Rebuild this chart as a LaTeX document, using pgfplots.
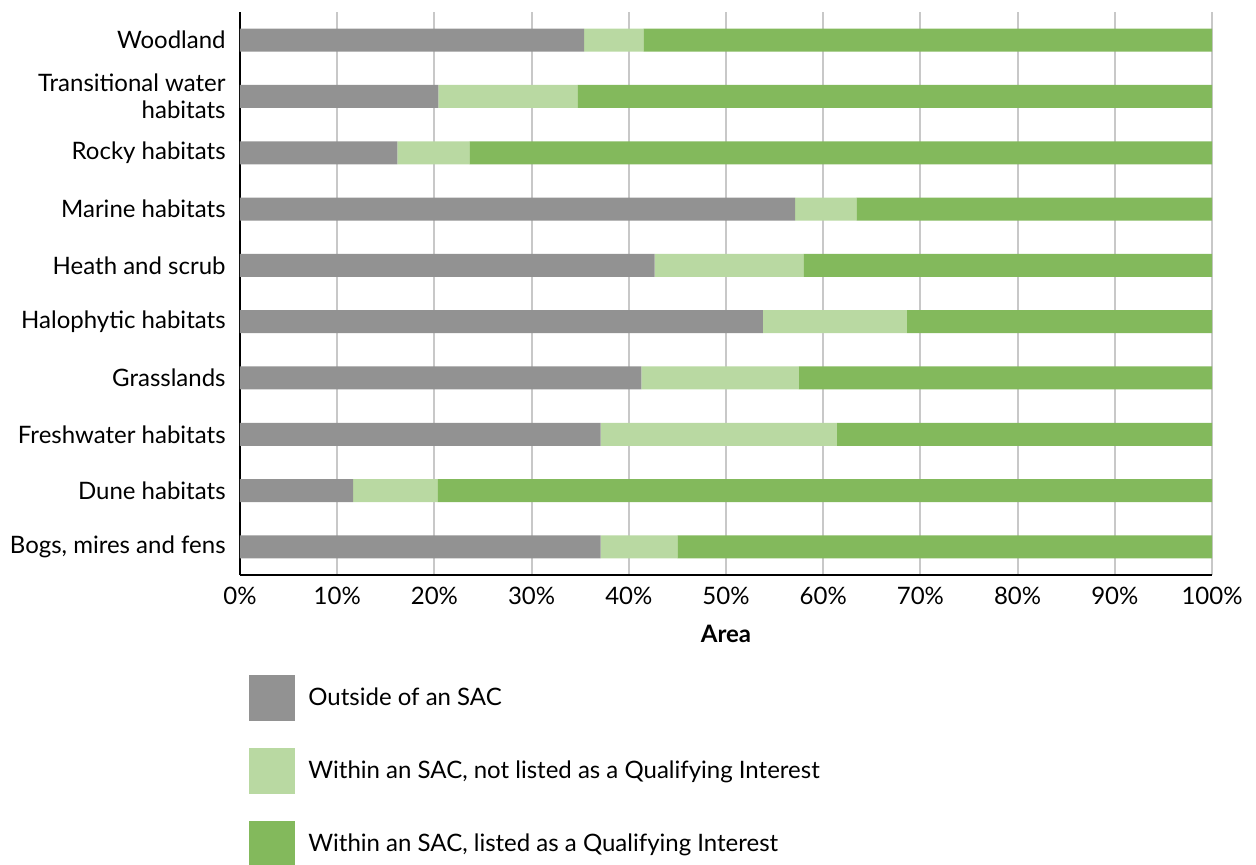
\documentclass[border=0pt]{standalone}
\usepackage{fontspec}
\setmainfont{Lato}
\usepackage{pgfplots}
\pgfplotsset{compat=1.18}

\definecolor{outgrey}{RGB}{146,146,146}
\definecolor{lightgreen}{RGB}{185,217,162}
\definecolor{qigreen}{RGB}{131,185,92}
\definecolor{gridgrey}{RGB}{200,200,200}

\begin{document}
\begin{tikzpicture}
\useasboundingbox (-120pt,-144.5pt) rectangle (508pt,287.5pt);
\begin{axis}[
    at={(0,0)}, anchor=south west,
    scale only axis, width=486pt, height=281.5pt,
    xbar stacked, bar width=11.5pt,
    xmin=0, xmax=100, ymin=-0.5, ymax=9.5,
    axis x line*=bottom, axis y line*=left,
    axis line style={line width=1pt, black},
    xmajorgrids, grid style={gridgrey, line width=1pt},
    major tick length=0pt,
    xtick={0,10,...,100},
    xticklabels={0\%,10\%,20\%,30\%,40\%,50\%,60\%,70\%,80\%,90\%,100\%},
    ytick={0,...,9},
    yticklabels={{Bogs, mires and fens},{Dune habitats},{Freshwater habitats},{Grasslands},{Halophytic habitats},{Heath and scrub},{Marine habitats},{Rocky habitats},{Transitional water\\habitats},{Woodland}},
    tick label style={font=\fontsize{12}{13.5}\selectfont},
    xticklabel style={inner sep=0pt, anchor=north, yshift=-6pt},
    yticklabel style={inner sep=0pt, anchor=east, xshift=-7pt, align=right},
    xlabel={\textbf{Area}},
    xlabel style={at={(axis description cs:0.5,0)}, anchor=north, yshift=-25pt, inner sep=0pt, font=\fontsize{12}{13.5}\selectfont},
    legend image code/.code={\fill[#1] (0pt,-11.5pt) rectangle (23pt,11.5pt);},
    legend style={at={(axis description cs:0,0)}, anchor=north west, xshift=4.5pt, yshift=-50pt,
        draw=none, inner sep=0pt, row sep=13.5pt, column sep=6.5pt,
        nodes={inner sep=0pt}, font=\fontsize{12}{13.5}\selectfont},
    legend cell align=left,
]
\addplot[fill=outgrey, draw=none] coordinates {
    (37.1,0) (11.65,1) (37.1,2) (41.3,3) (53.8,4) (42.65,5) (57.1,6) (16.2,7) (20.4,8) (35.4,9)};
\addlegendentry{Outside of an SAC}
\addplot[fill=lightgreen, draw=none] coordinates {
    (7.9,0) (8.65,1) (24.3,2) (16.2,3) (14.8,4) (15.3,5) (6.3,6) (7.4,7) (14.3,8) (6.1,9)};
\addlegendentry{Within an SAC, not listed as a Qualifying Interest}
\addplot[fill=qigreen, draw=none] coordinates {
    (55.0,0) (79.7,1) (38.6,2) (42.5,3) (31.4,4) (42.05,5) (36.6,6) (76.4,7) (65.3,8) (58.5,9)};
\addlegendentry{Within an SAC, listed as a Qualifying Interest}
\end{axis}
\end{tikzpicture}
\end{document}
